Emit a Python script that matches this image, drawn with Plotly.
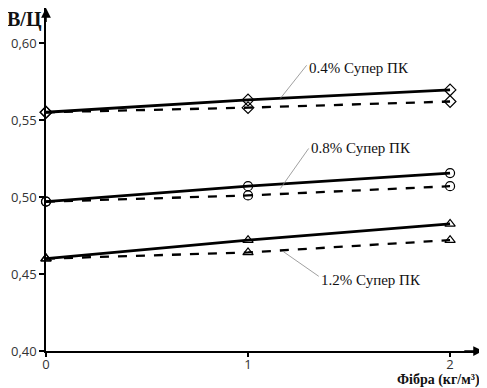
import plotly.graph_objects as go

fibre = [0, 1, 2]
s04_solid = [0.555, 0.563, 0.5695]
s04_dash = [0.555, 0.558, 0.562]
s08_solid = [0.497, 0.507, 0.5155]
s08_dash = [0.497, 0.501, 0.507]
s12_solid = [0.460, 0.472, 0.4825]
s12_dash = [0.460, 0.464, 0.472]
y_ticks = [0.40, 0.45, 0.50, 0.55, 0.60]
x_ticks = [0, 1, 2]
labels = ["0.4% Супер ПК", "0.8% Супер ПК", "1.2% Супер ПК"]

series = [
    (s04_solid, "solid", 2.8, "diamond-open"),
    (s04_dash, "dash", 2.3, "diamond-open"),
    (s08_solid, "solid", 2.8, "circle-open"),
    (s08_dash, "dash", 2.3, "circle-open"),
    (s12_solid, "solid", 2.8, "triangle-up-open"),
    (s12_dash, "dash", 2.3, "triangle-up-open"),
]

fig = go.Figure()
for ys, dash, w, sym in series:
    fig.add_trace(go.Scatter(
        x=fibre, y=ys, mode="lines+markers",
        line=dict(color="black", width=w, dash=dash),
        marker=dict(symbol=sym, size=9, color="black", line=dict(width=1.2, color="black")),
        showlegend=False, hoverinfo="skip", cliponaxis=False))

XMAX = 2.163
YMAX = 0.6227

# leader lines and labels
leaders = [
    ((1.16, 0.564), (1.29, 0.5855), labels[0], -3),
    ((1.16, 0.5055), (1.30, 0.5315), labels[1], 0),
    ((1.175, 0.4645), (1.35, 0.4485), labels[2], 6),
]
for (px, py), (tx, ty), txt, ys in leaders:
    fig.add_shape(type="line", x0=px, y0=py, x1=tx, y1=ty,
                  line=dict(color="#888", width=0.8))
    fig.add_annotation(x=tx, y=ty, text=txt, showarrow=False,
                       xanchor="left", yanchor="middle" if ty > 0.5 else "top",
                       yshift=ys,
                       font=dict(family="Liberation Serif", size=15, color="#111"))

# axis arrows
fig.add_annotation(x=XMAX, y=0.40, ax=XMAX - 0.1, ay=0.40, axref="x", ayref="y",
                   xref="x", yref="y", showarrow=True, arrowhead=2, arrowsize=1.3,
                   arrowwidth=1.5, arrowcolor="black", text="")
fig.add_annotation(x=0, y=YMAX, ax=0, ay=YMAX - 0.01, axref="x", ayref="y",
                   xref="x", yref="y", showarrow=True, arrowhead=2, arrowsize=1.3,
                   arrowwidth=1.5, arrowcolor="black", text="")

# axis titles
fig.add_annotation(xref="paper", yref="paper", x=-0.004, y=0.966, xanchor="right",
                   yanchor="middle", text="<b>В/Ц</b>", showarrow=False,
                   font=dict(family="Liberation Serif", size=20, color="#111"))
fig.add_annotation(xref="paper", yref="paper", x=0.998, y=-0.086, xanchor="right",
                   yanchor="middle", text="<b>Фібра (кг/м³)</b>", showarrow=False,
                   font=dict(family="Liberation Serif", size=14, color="#111"))

# page body has an 8px default margin, so the figure is sized/offset to fit
fig.update_layout(
    width=479, height=380,
    margin=dict(l=38, r=4, t=0, b=37, autoexpand=False),
    paper_bgcolor="white", plot_bgcolor="white",
    separators=", ",
    xaxis=dict(range=[0, XMAX], tickvals=x_ticks, ticks="outside", ticklen=4,
               tickwidth=1.5, tickcolor="black", showgrid=False, zeroline=False,
               showline=True, linecolor="black", linewidth=1.5, automargin=False,
               ticklabelstandoff=-3,
               tickfont=dict(family="Open Sans", size=13, color="#333")),
    yaxis=dict(range=[0.40, YMAX], tickvals=y_ticks, tickformat=".2f", ticks="outside",
               ticklen=5, tickwidth=1.5, tickcolor="black", showgrid=False,
               zeroline=False, showline=True, linecolor="black", linewidth=1.5,
               automargin=False,
               tickfont=dict(family="Open Sans", size=13, color="#333")),
)

fig.write_html("out.html")
